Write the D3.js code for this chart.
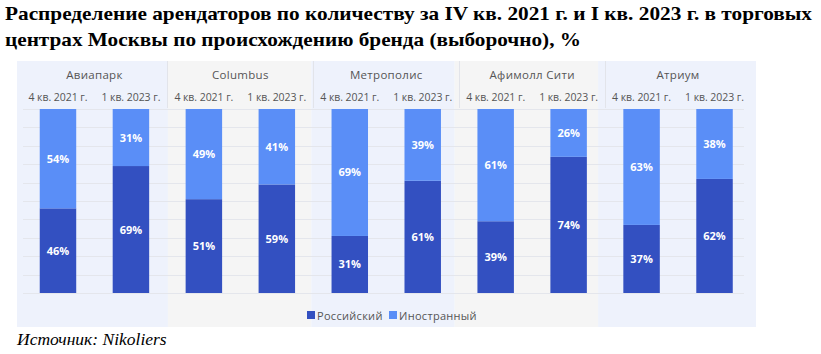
<!DOCTYPE html>
<html><head><meta charset="utf-8">
<script src="https://cdn.jsdelivr.net/npm/d3@7"></script>
<style>body{margin:0;background:#fff}svg{display:block}</style>
</head><body>
<script>
const malls = ["Авиапарк","Columbus","Метрополис","Афимолл Сити","Атриум"];
const periods = ["4 кв. 2021 г.","1 кв. 2023 г."];
const russian = [[46,69],[51,59],[31,61],[39,74],[37,62]];
const foreign = [[54,31],[49,41],[69,39],[61,26],[63,38]];
const seriesNames = ["Российский","Иностранный"];
const colors = ["#3350C1","#5A8EF7"];
const panelColors = ["#EEF2FC","#F5F5F5","#EEF2FC","#F5F5F5","#EEF2FC"];
const titleLines = ["Распределение арендаторов по количеству за IV кв. 2021 г. и I кв. 2023 г. в торговых","центрах Москвы по происхождению бренда (выборочно), %"];
const sourceText = "Источник: Nikoliers";
const yTicks = d3.range(0,101,10);

const W=821,H=354;
const svg=d3.select("body").append("svg").attr("width",W).attr("height",H);

// title
svg.selectAll("text.title").data(titleLines).join("text")
 .attr("x",5).attr("y",(d,i)=>20+i*26)
 .attr("font-family","Liberation Serif, Times New Roman, serif").attr("font-weight","bold")
 .attr("font-size",19).attr("fill","#000")
 .attr("textLength",(d,i)=>i===0?807:576).attr("lengthAdjust","spacingAndGlyphs")
 .text(d=>d);

const keys=[]; malls.forEach((m,i)=>periods.forEach((p,j)=>keys.push(i+"|"+j)));
const x=d3.scaleBand().domain(keys).range([21.5,751]).paddingInner(0.5).paddingOuter(0.25);
const px=d3.scaleBand().domain(malls).range([24.5,741.5]);
const y=d3.scaleLinear().domain([0,100]).range([293,109]);
const panelTop=61,panelBottom=327;

// panels
svg.selectAll("rect.panel").data(malls).join("rect")
 .attr("x",(d,i)=>i===0?17:px(d))
 .attr("width",(d,i)=>{const l=i===0?17:px(d);const r=i===malls.length-1?756:px(d)+px.bandwidth();return r-l;})
 .attr("y",panelTop).attr("height",panelBottom-panelTop)
 .attr("fill",(d,i)=>panelColors[i]);

// header separators
const seps=malls.slice(1).map((m,i)=>(x((i)+"|1")+x.bandwidth()+x((i+1)+"|0"))/2);
svg.selectAll("line.sep").data(seps).join("line")
 .attr("x1",d=>Math.round(d)+0.5).attr("x2",d=>Math.round(d)+0.5).attr("y1",panelTop).attr("y2",108)
 .attr("stroke","#E2E4EA").attr("stroke-width",1);

// gridlines
svg.selectAll("line.grid").data(yTicks).join("line")
 .attr("x1",23).attr("x2",744).attr("y1",d=>Math.round(y(d))+0.5).attr("y2",d=>Math.round(y(d))+0.5)
 .attr("stroke","#E4E6EC").attr("stroke-width",1);

// headers
svg.selectAll("text.mall").data(malls).join("text")
 .attr("x",(d,i)=>(x(i+"|0")+x(i+"|1")+x.bandwidth())/2).attr("y",79)
 .attr("text-anchor","middle").attr("font-family","Open Sans, sans-serif").attr("font-size",11.5)
 .attr("letter-spacing",0.3).attr("fill","#555").text(d=>d);
svg.selectAll("text.per").data(keys).join("text")
 .attr("x",d=>x(d)+x.bandwidth()/2).attr("y",101)
 .attr("text-anchor","middle").attr("font-family","Open Sans, sans-serif").attr("font-size",10.5)
 .attr("textLength",59).attr("lengthAdjust","spacing")
 .attr("fill","#555").text(d=>periods[+d.split("|")[1]]);

// bars
const segs=[];
keys.forEach(k=>{const [i,j]=k.split("|").map(Number);
 const r=russian[i][j], f=foreign[i][j];
 segs.push({k,y0:0,y1:r,v:r,s:0});
 segs.push({k,y0:r,y1:r+f,v:f,s:1});
});
svg.selectAll("rect.bar").data(segs).join("rect")
 .attr("x",d=>x(d.k)).attr("width",x.bandwidth())
 .attr("y",d=>y(Math.min(d.y1,100))).attr("height",d=>y(d.y0)-y(Math.min(d.y1,100)))
 .attr("fill",d=>colors[d.s]);
svg.selectAll("text.lbl").data(segs).join("text")
 .attr("x",d=>x(d.k)+x.bandwidth()/2).attr("y",d=>(y(d.y0)+y(Math.min(d.y1,100)))/2+4)
 .attr("text-anchor","middle").attr("font-family","Open Sans, sans-serif").attr("font-weight","bold")
 .attr("font-size",11).attr("fill","#fff").text(d=>d.v+"%");

// legend
const lg=svg.append("g");
const lx=[307,389];
seriesNames.forEach((n,i)=>{
 lg.append("rect").attr("x",lx[i]).attr("y",311).attr("width",8).attr("height",8).attr("fill",colors[i]);
 lg.append("text").attr("x",lx[i]+10).attr("y",319.5).attr("font-family","Open Sans, sans-serif")
  .attr("font-size",11).attr("letter-spacing",0.3).attr("fill","#555").text(n);
});

// source
svg.append("text").attr("x",17).attr("y",345)
 .attr("font-family","Liberation Serif, Times New Roman, serif").attr("font-style","italic")
 .attr("font-size",17.5).attr("fill","#000").text(sourceText);
</script>
</body></html>
